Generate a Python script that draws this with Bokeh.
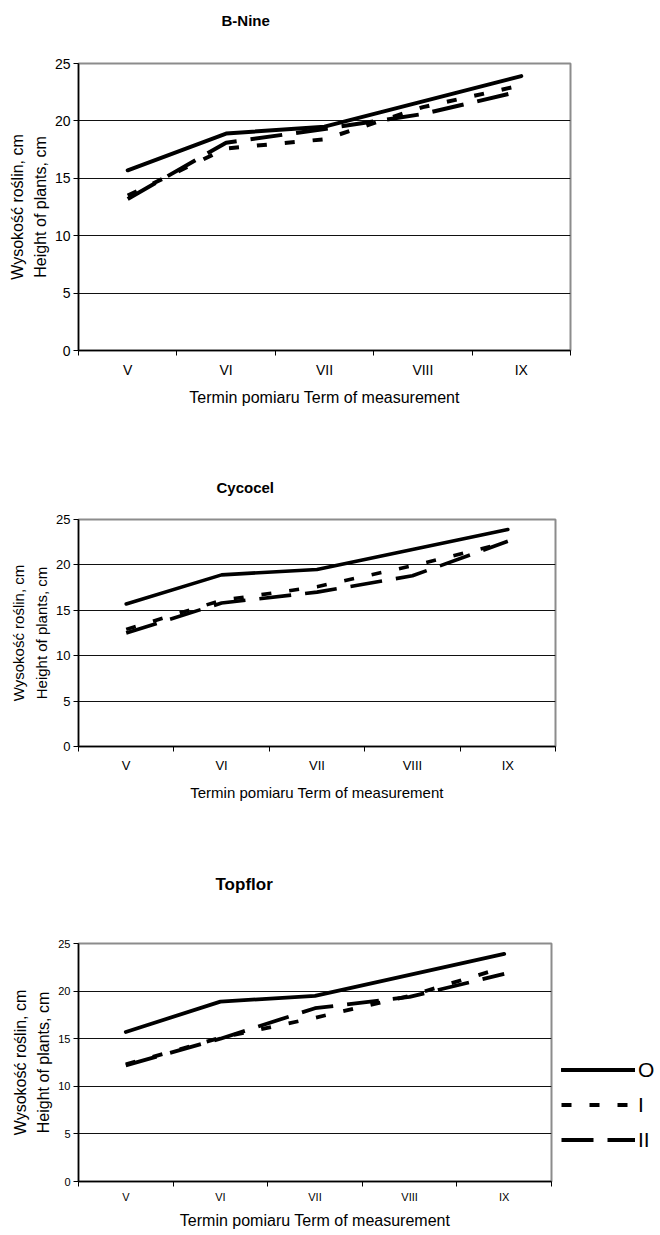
from bokeh.plotting import figure
from bokeh.models import Range1d, FixedTicker, Legend, LegendItem, Title
from bokeh.layouts import column
from bokeh.embed import file_html
from bokeh.resources import INLINE

# ---------------- data ----------------
terms = ["V", "VI", "VII", "VIII", "IX"]
y_ticks = [0, 5, 10, 15, 20, 25]
series_names = ["O", "I", "II"]

control_O = [15.7, 18.9, 19.5, 21.7, 23.9]

bnine_I = [13.5, 17.6, 18.4, 21.2, 23.1]
bnine_II = [13.2, 18.1, 19.3, 20.6, 22.6]

cycocel_I = [12.9, 16.1, 17.6, 19.9, 22.5]
cycocel_II = [12.5, 15.8, 17.0, 18.8, 22.6]

topflor_I = [12.3, 15.1, 17.2, 19.5, 22.5]
topflor_II = [12.2, 15.0, 18.2, 19.4, 21.8]

x_title = "Termin pomiaru Term of measurement"
y_title = "Wysokość roślin, cm\nHeight of plants, cm"

FONT = "Liberation Sans"


def make_chart(title, s_O, s_I, s_II, cfg, legend=False):
    n = len(terms)
    xs = list(range(n))
    p = figure(
        frame_width=cfg["fw"], frame_height=cfg["fh"],
        min_border_left=cfg["bl"], min_border_right=cfg["br"],
        min_border_top=cfg["bt"], min_border_bottom=cfg["bb"],
        x_range=Range1d(-0.5, n - 0.5), y_range=Range1d(0, 25),
        output_backend="svg", toolbar_location=None,
    )
    p.background_fill_color = "white"
    p.border_fill_color = "white"
    p.outline_line_color = "#8c8c8c"
    p.outline_line_width = 2

    # grid
    p.xgrid.visible = False
    p.ygrid.ticker = FixedTicker(ticks=y_ticks)
    p.ygrid.grid_line_color = "#111111"
    p.ygrid.grid_line_width = 1

    # x axis: ticks on category boundaries, labels at centres
    xa = p.xaxis[0]
    xa.ticker = FixedTicker(ticks=xs, minor_ticks=[i - 0.5 for i in range(n + 1)])
    xa.major_label_overrides = {i: t for i, t in enumerate(terms)}
    xa.major_tick_line_color = None
    xa.major_tick_out = 5
    xa.major_tick_in = 0
    xa.minor_tick_line_color = "black"
    xa.minor_tick_line_width = 1
    xa.minor_tick_out = 5
    xa.minor_tick_in = 0
    xa.axis_line_color = "black"
    xa.axis_line_width = 1.5
    xa.major_label_text_font = FONT
    xa.major_label_text_font_size = cfg["tick"]
    xa.major_label_text_color = "black"
    xa.major_label_standoff = cfg["xls"]
    xa.axis_label = x_title
    xa.axis_label_text_font = FONT
    xa.axis_label_text_font_size = cfg["lab"]
    xa.axis_label_text_font_style = "normal"
    xa.axis_label_text_color = "black"
    xa.axis_label_standoff = cfg["xas"]

    ya = p.yaxis[0]
    ya.ticker = FixedTicker(ticks=y_ticks)
    ya.major_tick_out = 5
    ya.major_tick_in = 0
    ya.major_tick_line_color = "black"
    ya.minor_tick_line_color = None
    ya.axis_line_color = "black"
    ya.axis_line_width = 1.5
    ya.major_label_text_font = FONT
    ya.major_label_text_font_size = cfg["tick"]
    ya.major_label_text_color = "black"
    ya.major_label_standoff = 3
    ya.axis_label = y_title
    ya.axis_label_text_font = FONT
    ya.axis_label_text_font_size = cfg["lab"]
    ya.axis_label_text_font_style = "normal"
    ya.axis_label_text_color = "black"
    ya.axis_label_text_line_height = 1.35
    ya.axis_label_standoff = cfg["yas"]

    lw = cfg["lw"]
    r_O = p.line(xs, s_O, line_color="black", line_width=lw, line_cap="round", line_join="round")
    r_I = p.line(xs, s_I, line_color="black", line_width=lw, line_dash="10 18", line_join="round")
    r_II = p.line(xs, s_II, line_color="black", line_width=lw, line_dash="32 14", line_join="round")

    # blank spacer between the frame and the chart title (nearest the frame)
    p.add_layout(Title(text=" ", text_font=FONT, text_font_size="10px",
                       standoff=cfg["sp"]), "above")
    p.add_layout(Title(
        text=title, align="left", offset=cfg["toff"], standoff=0, vertical_align="bottom",
        text_font=FONT, text_font_style="bold", text_font_size=cfg["tsize"],
        text_color="black",
    ), "above")

    if legend:
        lg = Legend(
            items=[LegendItem(label=series_names[0], renderers=[r_O]),
                   LegendItem(label=series_names[1], renderers=[r_I]),
                   LegendItem(label=series_names[2], renderers=[r_II])],
            location=(10, 24), orientation="vertical",
            glyph_width=74, glyph_height=35, label_height=35, label_width=10,
            spacing=0, padding=0, margin=0, label_standoff=3,
            border_line_color=None, background_fill_alpha=0,
            label_text_font=FONT, label_text_font_size="21px",
            label_text_color="black",
        )
        p.add_layout(lg, "right")
    return p


cfg1 = dict(fw=492, fh=287, bl=78, br=80, bt=63, bb=70, tick="14px", lab="16px",
            xls=6, xas=8, yas=3, lw=4, sp=22, toff=143, tsize="15px")
cfg2 = dict(fw=477, fh=227, bl=75, br=98, bt=99, bb=64, tick="13px", lab="15px",
            xls=6, xas=8, yas=3, lw=3.6, sp=11, toff=138, tsize="15px")
cfg3 = dict(fw=473, fh=238, bl=75, br=102, bt=133, bb=46, tick="11px", lab="16px",
            xls=4, xas=6, yas=3, lw=3.8, sp=37, toff=137, tsize="17px")

f1 = make_chart("B-Nine", control_O, bnine_I, bnine_II, cfg1)
f2 = make_chart("Cycocel", control_O, cycocel_I, cycocel_II, cfg2)
f3 = make_chart("Topflor", control_O, topflor_I, topflor_II, cfg3, legend=True)

layout = column(f1, f2, f3, spacing=0)
open("out.html", "w").write(file_html(layout, INLINE))
